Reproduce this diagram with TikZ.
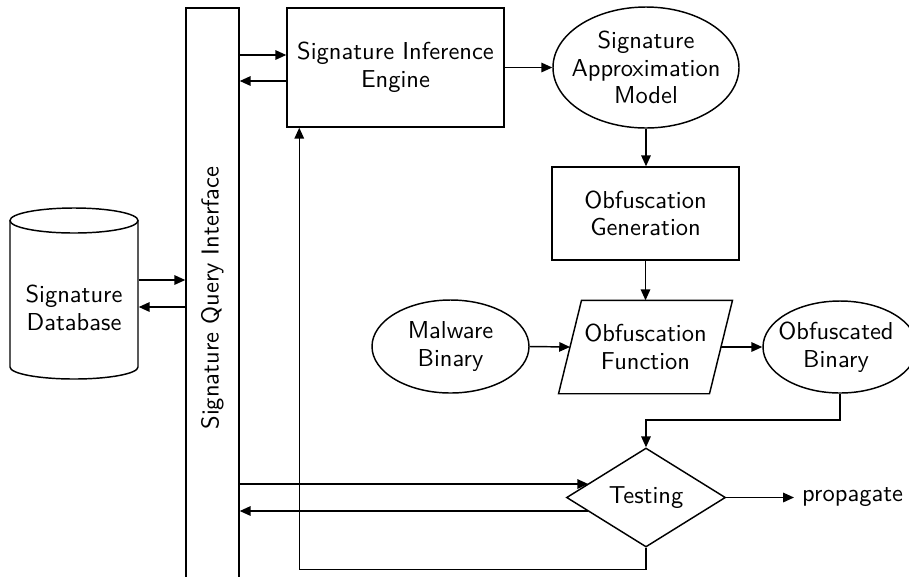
\documentclass[tikz,border=0pt]{standalone}
\usetikzlibrary{arrows.meta,shapes.geometric,calc}
\begin{document}
\begin{tikzpicture}[x=0.445pt,y=-0.445pt,
  font=\sffamily\fontsize{10.9}{12.3}\selectfont,
  every node/.style={align=center},
  line width=0.65pt,
  arr/.style={-{Triangle[length=4.8pt,width=4.2pt]}},
  boxnode/.style={draw,rectangle,inner sep=0pt},
  ellnode/.style={draw,ellipse,inner sep=0pt},
  diamnode/.style={draw,diamond,inner sep=0pt,aspect=1.6}]
\fill[white] (0,0) rectangle (909,576);
\useasboundingbox (0,0) rectangle (909,576);

% Signature Query Interface (tall bar)
\node[boxnode,minimum width=53*0.445pt,minimum height=600*0.445pt] (sqi) at (212.5,308) {};
\node[rotate=90] (sqilabel) at (212.5,298) {Signature Query Interface};

% Database cylinder
\node[minimum width=128*0.445pt,minimum height=171*0.445pt,inner sep=0pt] (db) at (74,293.5) {};
\draw (10,220.5) -- (10,367) arc[start angle=180,end angle=0,x radius=64,y radius=12] -- (138,220.5);
\draw (74,220.5) ellipse[x radius=64,y radius=12.5];
\node (dblabel) at (74,308) {Signature\\Database};

% Other nodes
\node[boxnode,minimum width=217*0.445pt,minimum height=119*0.445pt] (sie) at (395.5,67.5) {Signature Inference\\Engine};
\node[ellnode,minimum width=186*0.445pt,minimum height=121*0.445pt] (sam) at (646,67.5) {};
\node (samlabel) at (sam.center) {Signature\\Approximation\\Model};
\node[boxnode,minimum width=187*0.445pt,minimum height=93*0.445pt] (og) at (645.5,213.5) {Obfuscation\\Generation};
\node[minimum width=149.5*0.445pt,minimum height=92*0.445pt,inner sep=0pt] (of) at (645.5,347) {Obfuscation\\Function};
\draw ([xshift=-11.5*0.445pt]of.south west) -- ([xshift=-11.5*0.445pt]of.south east)
   -- ([xshift=11.5*0.445pt]of.north east) -- ([xshift=11.5*0.445pt]of.north west) -- cycle;
\node[ellnode,minimum width=157*0.445pt,minimum height=93*0.445pt] (mb) at (450.5,346.5) {};
\node (mblabel) at (mb.center) {Malware\\Binary};
\node[ellnode,minimum width=154*0.445pt,minimum height=92*0.445pt] (ob) at (840,347) {};
\node (oblabel) at (836,347) {Obfuscated\\Binary};
\node[diamnode,minimum width=159*0.445pt,minimum height=99*0.445pt] (test) at (646,497.5) {Testing};
\node[anchor=west] (prop) at (794,497.5) {propagate};

% Connectors
\draw[arr] (db.east |- 0,280) -- (sqi.west |- 0,280);
\draw[arr] (sqi.west |- 0,307) -- (db.east |- 0,307);
\draw[arr] (sqi.east |- 0,55) -- (sie.west |- 0,55);
\draw[arr] (sie.west |- 0,81) -- (sqi.east |- 0,81);
\draw[arr] (sie.east) -- (sam.west);
\draw[arr] (sam.south) -- (sam.south |- og.north);
\draw[arr] (og.south) -- (og.south |- of.north);
\draw[arr] (mb.east) -- (of.west);
\draw[arr] (of.east) -- (ob.west);
\draw[arr] (ob.south) -- (ob.south |- 0,420) -| (test.north);
\draw[arr] (test.east) -- (prop.west);
\draw[arr] (sqi.east |- 0,484) -- ($(test.center)+(-57.8,-13.5)$);
\draw[arr] ($(test.center)+(-57.8,13.5)$) -- (sqi.east |- 0,511);
\draw[arr] (test.south) -- ++(0,21.5) -| ($(sie.south west)+(13,0)$);
\end{tikzpicture}
\end{document}
